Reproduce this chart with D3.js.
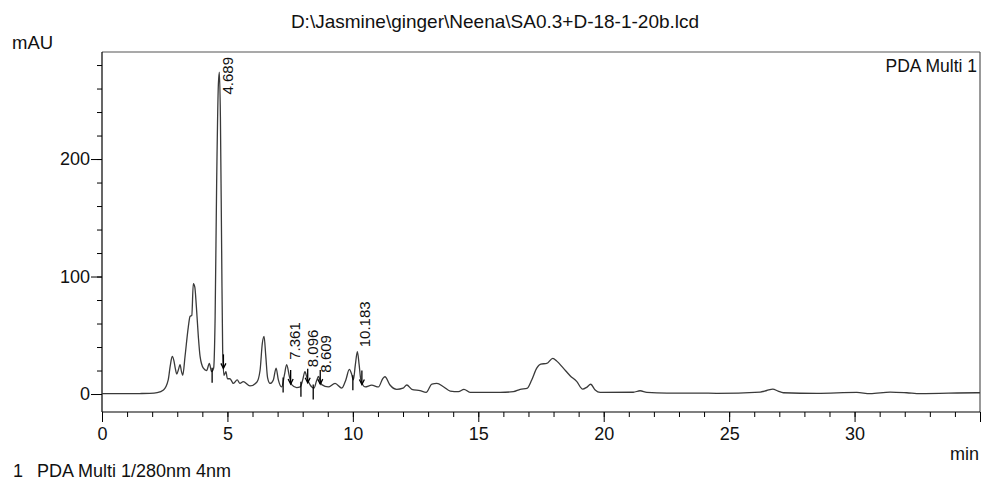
<!DOCTYPE html>
<html>
<head>
<meta charset="utf-8">
<script src="https://cdn.jsdelivr.net/npm/d3@7"></script>
<style>
  body { margin: 0; background: #fff; }
  svg { display: block; font-family: "Liberation Sans", Arial, sans-serif; }
</style>
</head>
<body>
<div id="chart"></div>
<script>
// chromatogram: retention time (min) and signal (mAU)
const times = [0, 0.5, 1.0, 1.5, 1.9, 2.2, 2.45, 2.64, 2.72, 2.8, 2.87, 2.92, 2.98, 3.05, 3.11, 3.17, 3.22,
    3.31, 3.44, 3.51, 3.58, 3.64, 3.7, 3.76, 3.84, 3.91, 4.04, 4.17, 4.28, 4.37, 4.45, 4.51, 4.57, 4.64,
    4.68, 4.72, 4.77, 4.81, 4.86, 4.94, 5.0, 5.1, 5.24, 5.39, 5.5, 5.63, 5.9, 6.17, 6.3, 6.39, 6.46, 6.53,
    6.6, 6.7, 6.83, 6.94, 7.03, 7.16, 7.27, 7.36, 7.47, 7.56, 7.76, 7.9, 8.0, 8.09, 8.18, 8.29, 8.45, 8.55,
    8.63, 8.7, 8.76, 9.02, 9.29, 9.56, 9.72, 9.86, 9.95, 10.02, 10.1, 10.18, 10.25, 10.32, 10.49, 10.75,
    11.02, 11.19, 11.28, 11.48, 11.75, 12.0, 12.15, 12.35, 12.68, 12.92, 13.15, 13.35, 13.61, 13.88, 14.21,
    14.43, 14.67, 15.2, 15.87, 16.4, 16.67, 16.94, 17.13, 17.33, 17.49, 17.73, 17.97, 18.13, 18.39, 18.66,
    18.93, 19.16, 19.32, 19.48, 19.66, 19.86, 21.18, 21.45, 21.72, 22.52, 23.84, 24.5, 26.24, 26.5, 26.74,
    26.95, 27.16, 28.5, 30.09, 30.62, 31.42, 32.08, 32.62, 34.87, 35];
const mAU = [0.3, 0.3, 0.3, 0.4, 0.6, 1.2, 3.4, 12, 24, 32, 28, 22, 17, 21, 25, 19, 16,
    32, 57, 66, 67, 94, 91, 75, 49, 32, 22, 20, 26, 19, 22, 66, 179, 264,
    274, 236, 122, 37, 16, 19, 13, 13, 9, 12, 9, 10.5, 7, 10, 20, 43, 49, 32,
    14, 9, 12, 22, 12, 6, 16, 25, 15, 8, 5.5, 6, 12, 19, 13, 8, 5, 11,
    15, 11, 8, 6, 9, 5, 12, 21, 17, 12, 25, 36, 25, 12, 6, 7.5,
    6, 13, 14.7, 7.7, 4, 5, 7.7, 4, 2.8, 1.4, 8.5, 9, 6.2, 2.5, 2,
    4, 1.4, 1.4, 1.4, 2, 4, 4.8, 12, 22, 25.5, 26, 30.4, 28, 22, 15.6,
    10.5, 4.2, 5.7, 8.3, 3.4, 1.4, 1.5, 2.8, 1.4, 0.8, 0.8, 0.6, 1.7, 3, 4.2,
    2.5, 1.1, 0.6, 1.4, 0.3, 1.7, 1.1, 0.3, 1.1, 1.1];

// integrated peaks
const peakTimes = [4.689, 7.361, 8.096, 8.609, 10.183];
const peakLabels = ["4.689", "7.361", "8.096", "8.609", "10.183"];
const peakStarts = [4.39, 7.22, 7.93, 8.42, 10.0];
const peakEnds = [4.84, 7.52, 8.2, 8.7, 10.36];

const xMajorTicks = [0, 5, 10, 15, 20, 25, 30, 35];
const xTickLabels = ["0", "5", "10", "15", "20", "25", "30", ""];
const yMajorTicks = [0, 100, 200];
const yTickLabels = ["0", "100", "200"];

const titleText = "D:\\Jasmine\\ginger\\Neena\\SA0.3+D-18-1-20b.lcd";
const channelText = "PDA Multi 1";
const footerText = "PDA Multi 1/280nm 4nm";

const W = 982, H = 482;
const margin = { top: 52, right: 2, bottom: 70, left: 102 };
const width = W - margin.left - margin.right;
const height = H - margin.top - margin.bottom;

const svg = d3.select("#chart").append("svg")
    .attr("width", W)
    .attr("height", H);

const g = svg.append("g")
    .attr("transform", `translate(${margin.left},${margin.top})`);

const x = d3.scaleLinear().domain([0, 35]).range([0, width]);
const y = d3.scaleLinear().domain([-15.3, 291.1]).range([height, 0]);

// signal at any time, linear between read points
const bis = d3.bisector(d => d).left;
const valueAt = (t) => {
    let i = bis(times, t);
    if (i <= 0) return mAU[0];
    if (i >= times.length) return mAU[mAU.length - 1];
    const t0 = times[i - 1], t1 = times[i];
    return mAU[i - 1] + (mAU[i] - mAU[i - 1]) * (t - t0) / (t1 - t0);
};

// frame top and right
g.append("line").attr("x1", 0).attr("x2", width).attr("y1", 0).attr("y2", 0)
    .attr("stroke", "#555").attr("stroke-width", 1.2);
g.append("line").attr("x1", width).attr("x2", width).attr("y1", 0).attr("y2", height)
    .attr("stroke", "#555").attr("stroke-width", 1.2);

// Y axis: minor then major
g.append("g")
    .call(d3.axisLeft(y).tickValues(d3.range(20, 290, 20)).tickSize(5).tickFormat(""))
    .call(a => a.select(".domain").remove());

const yAxis = g.append("g")
    .call(d3.axisLeft(y).tickValues(yMajorTicks).tickSize(11).tickPadding(1)
        .tickFormat((d, i) => yTickLabels[i]));
yAxis.select(".domain").attr("d", `M0,0V${height}`).attr("stroke-width", 1.2);
yAxis.selectAll("text").attr("font-size", 18).attr("fill", "#111").attr("font-family", "Liberation Sans, Arial, sans-serif");

// X axis: minor then major
g.append("g")
    .attr("transform", `translate(0,${height})`)
    .call(d3.axisBottom(x).tickValues(d3.range(0, 36, 1)).tickSize(5).tickFormat(""))
    .call(a => a.select(".domain").remove());

const xAxis = g.append("g")
    .attr("transform", `translate(0,${height})`)
    .call(d3.axisBottom(x).tickValues(xMajorTicks).tickSize(10).tickPadding(5)
        .tickFormat((d, i) => xTickLabels[i]));
xAxis.select(".domain").attr("d", `M0,0H${width}`).attr("stroke-width", 1.2);
xAxis.selectAll("text").attr("font-size", 18).attr("fill", "#111").attr("font-family", "Liberation Sans, Arial, sans-serif");

// the trace
const line = d3.line()
    .x((d, i) => x(times[i]))
    .y(d => y(d))
    .curve(d3.curveMonotoneX);

g.append("path")
    .datum(mAU)
    .attr("fill", "none")
    .attr("stroke", "#3a3a3a")
    .attr("stroke-width", 1.3)
    .attr("stroke-linejoin", "round")
    .attr("d", line);

// peak start / end markers
const markers = g.append("g").attr("stroke", "#000").attr("stroke-width", 1.3).attr("fill", "none");
peakStarts.forEach((t) => {
    const px = x(t), py = y(valueAt(t));
    markers.append("line").attr("x1", px).attr("x2", px).attr("y1", py - 3).attr("y2", py + 12);
});
peakEnds.forEach((t) => {
    const px = x(t), py = y(valueAt(t));
    markers.append("line").attr("x1", px).attr("x2", px).attr("y1", py - 11).attr("y2", py + 3);
    markers.append("path").attr("d", `M${px - 2.5},${py - 2}L${px},${py + 3}L${px + 2.5},${py - 2}`);
});

// retention time labels, rotated
const labelSize = 15;
peakTimes.forEach((t, i) => {
    const txt = peakLabels[i];
    const len = txt.length * 0.5 * labelSize;
    let start = y(valueAt(t)) - 5;
    if (start - len < 5) start = 5 + len;
    g.append("text")
        .attr("transform", `translate(${x(t) + 13},${start}) rotate(-90)`)
        .attr("font-size", labelSize)
        .attr("fill", "#111")
        .text(txt);
});

// texts around the plot
svg.append("text")
    .attr("x", 495).attr("y", 28)
    .attr("text-anchor", "middle")
    .attr("font-size", 19)
    .attr("fill", "#111")
    .text(titleText);

svg.append("text")
    .attr("x", 12).attr("y", 49)
    .attr("font-size", 18.5)
    .attr("fill", "#111")
    .text("mAU");

svg.append("text")
    .attr("x", 977).attr("y", 72)
    .attr("text-anchor", "end")
    .attr("font-size", 17.5)
    .attr("fill", "#111")
    .text(channelText);

svg.append("text")
    .attr("x", 979).attr("y", 460)
    .attr("text-anchor", "end")
    .attr("font-size", 18)
    .attr("fill", "#111")
    .text("min");

svg.append("text")
    .attr("x", 13).attr("y", 477)
    .attr("font-size", 18)
    .attr("fill", "#111")
    .text("1");

svg.append("text")
    .attr("x", 37).attr("y", 477)
    .attr("font-size", 18)
    .attr("fill", "#111")
    .text(footerText);
</script>
</body>
</html>
